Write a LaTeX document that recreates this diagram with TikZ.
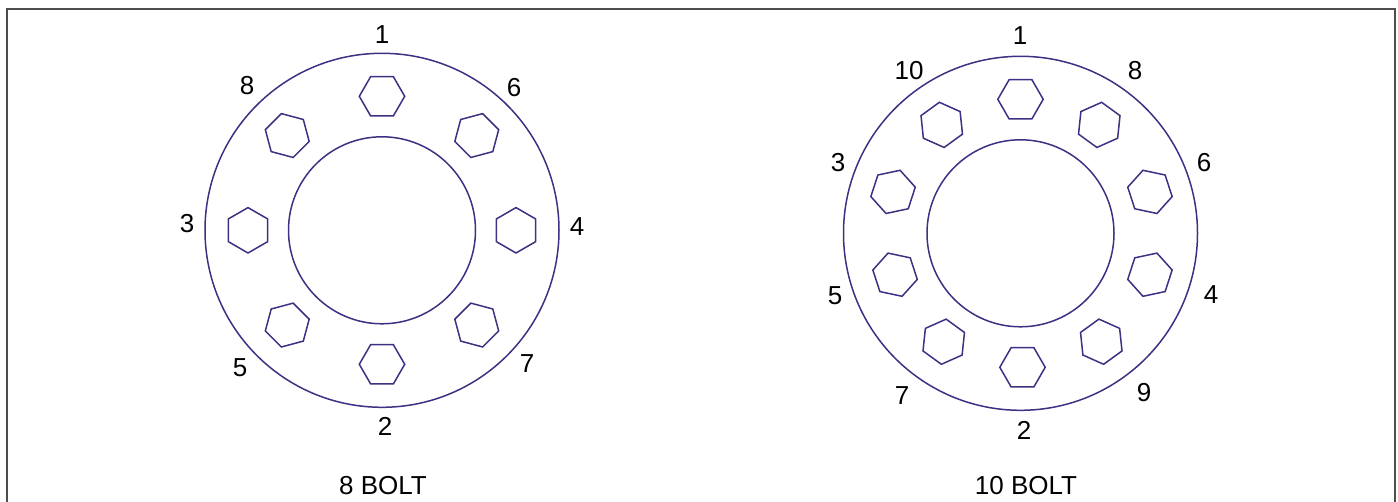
\documentclass[tikz,border=0pt]{standalone}
\usepackage{fontspec}
\setmainfont{Liberation Sans}
\usetikzlibrary{shapes.geometric, calc}
\definecolor{BoltPurple}{RGB}{62, 48, 130}
\definecolor{FrameGrey}{RGB}{77, 77, 77}

\begin{document}
\begin{tikzpicture}[
        x = 1pt,
        y = -1pt,
        ring/.style = {
            circle,
            draw = BoltPurple,
            line width = 1.5pt,
            inner sep = 0pt,
            outer sep = 0pt
        },
        bolthex/.style = {
            regular polygon,
            regular polygon sides = 6,
            draw = BoltPurple,
            line width = 1.5pt,
            minimum size = 45.4pt,
            inner sep = 0pt,
            outer sep = 0pt
        },
        numlabel/.style = {
            inner sep = 0pt,
            font = \fontsize{26}{30}\selectfont
        }
    ]
        \useasboundingbox (0, 0) rectangle (1398, 502);
        \draw[FrameGrey, line width = 2.2pt] (7, 502) -- (7, 9) -- (1395, 9) -- (1395, 502);

        % 8 bolt flange
        \coordinate (c8) at (382, 230.3);
        \node[ring, minimum size = 354pt] (outerA) at (c8) {};
        \node[ring, minimum size = 187pt] (innerA) at (c8) {};
        \foreach \ang in {90, 45, 0, -45, -90, -135, 180, 135} {
            \node[bolthex, rotate = \ang - 90] (hexA\ang) at ($(c8) + (\ang:134pt)$) {};
        }
        \foreach \num/\xpos/\ypos in {1/382/35, 8/247/86, 6/514/88, 3/187/224, 4/577/227, 5/240/368, 7/527/364, 2/385/426} {
            \node[numlabel] (labA\num) at (\xpos, \ypos) {\num};
        }
        \node[numlabel] (nameA) at (383, 486) {8 BOLT};

        % 10 bolt flange
        \coordinate (c10) at (1020.5, 233.3);
        \node[ring, minimum size = 354pt] (outerB) at (c10) {};
        \node[ring, minimum size = 187pt] (innerB) at (c10) {};
        \foreach \ang/\dx in {90/0, 54/0, 18/2, -18/2, -54/2, -90/2, -126/2, -162/2, 162/0, 126/0} {
            \node[bolthex, rotate = \ang - 90] (hexB\ang) at ($(c10) + (\ang:134pt) + (\dx, 0)$) {};
        }
        \foreach \num/\xpos/\ypos in {1/1020/36, 10/909/71, 8/1135/71, 3/838/163, 6/1204/163, 5/835/296, 4/1211/295, 7/902/396, 9/1144/393, 2/1024/430} {
            \node[numlabel] (labB\num) at (\xpos, \ypos) {\num};
        }
        \node[numlabel] (nameB) at (1026, 486) {10 BOLT};
    \end{tikzpicture}
\end{document}
